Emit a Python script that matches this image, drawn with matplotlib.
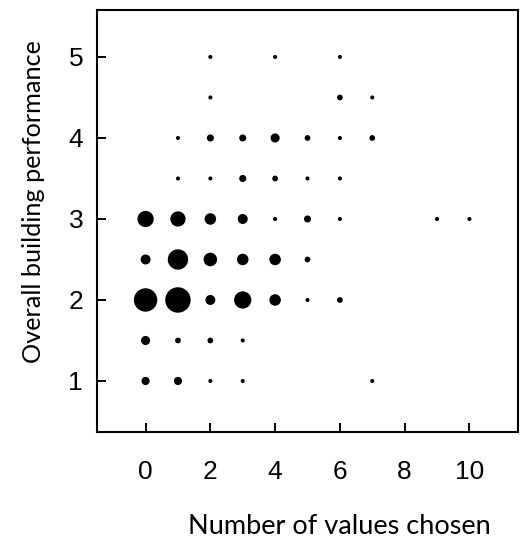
import matplotlib
matplotlib.use("Agg")
import matplotlib.pyplot as plt
import numpy as np

# number of values chosen (x), overall building performance (y), count of buildings
values_chosen = [2, 4, 6,
                 2, 6, 7,
                 1, 2, 3, 4, 5, 6, 7,
                 1, 2, 3, 4, 5, 6,
                 0, 1, 2, 3, 4, 5, 6, 9, 10,
                 0, 1, 2, 3, 4, 5,
                 0, 1, 2, 3, 4, 5, 6,
                 0, 1, 2, 3,
                 0, 1, 2, 3, 7]
performance = [5, 5, 5,
               4.5, 4.5, 4.5,
               4, 4, 4, 4, 4, 4, 4,
               3.5, 3.5, 3.5, 3.5, 3.5, 3.5,
               3, 3, 3, 3, 3, 3, 3, 3, 3,
               2.5, 2.5, 2.5, 2.5, 2.5, 2.5,
               2, 2, 2, 2, 2, 2, 2,
               1.5, 1.5, 1.5, 1.5,
               1, 1, 1, 1, 1]
counts = [1, 1, 1,
          1, 2, 1,
          1, 3, 3, 5, 2, 1, 2,
          1, 1, 3, 2, 1, 1,
          16, 14, 8, 6, 1, 3, 1, 1, 1,
          6, 25, 11, 8, 8, 2,
          33, 39, 6, 18, 8, 1, 2,
          5, 2, 2, 1,
          4, 4, 1, 1, 1]

xticks = [0, 2, 4, 6, 8, 10]
yticks = [1, 2, 3, 4, 5]

fig = plt.figure(figsize=(5.2, 5.43), dpi=100)
ax = fig.add_axes([97/520, 111/543, 421/520, 422/543])

ax.scatter(values_chosen, performance, s=np.array(counts)*8.6, c="black",
           linewidths=0, marker="o")

ax.set_xlim(-1.5, 11.5)
ax.set_ylim(0.37, 5.58)
ax.set_xticks(xticks)
ax.set_yticks(yticks)
ax.tick_params(direction="in", length=6.5, width=1.4, labelsize=19)
ax.tick_params(axis="x", pad=20)
ax.tick_params(axis="y", pad=10)
for lab in ax.get_xticklabels() + ax.get_yticklabels():
    lab.set_family("Liberation Sans")
for sp in ax.spines.values():
    sp.set_linewidth(1.5)

ax.set_xlabel("Number of values chosen", family="Lato", fontsize=19.5, labelpad=22)
ax.set_ylabel("Overall building performance", family="Lato", fontsize=18.2, labelpad=16.5)
# labels are off-centre in the original
ax.xaxis.label.set_x(0.575)
ax.yaxis.label.set_y(0.547)

fig.savefig("out.png", dpi=100)
